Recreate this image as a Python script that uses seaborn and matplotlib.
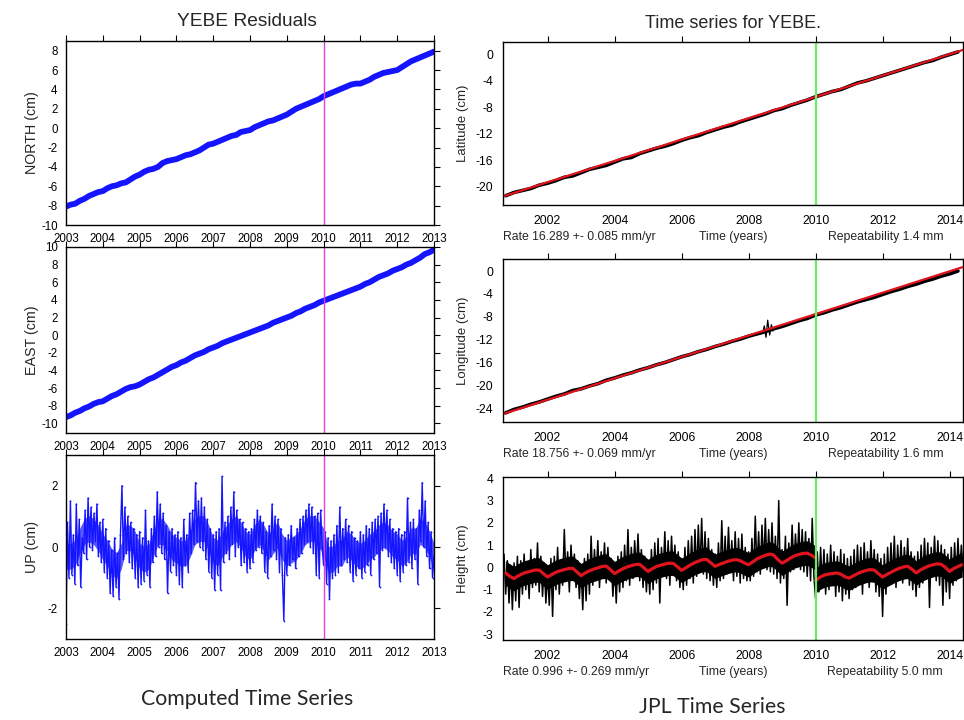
import numpy as np
import pandas as pd
import matplotlib
matplotlib.use("Agg")
import matplotlib.pyplot as plt
import seaborn as sns

# ---------------- data ----------------
# Left column: YEBE residuals 2003-2013, samples every 1/8 year
north = [-8.1, -7.9, -7.8, -7.5, -7.3, -7.0, -6.8, -6.6,
         -6.5, -6.2, -6.0, -5.9, -5.7, -5.6, -5.3, -5.0,
         -4.8, -4.5, -4.3, -4.2, -4.0, -3.6, -3.4, -3.3,
         -3.2, -3.0, -2.8, -2.7, -2.5, -2.3, -2.0, -1.7,
         -1.6, -1.4, -1.2, -1.0, -0.8, -0.7, -0.4, -0.3,
         -0.2, 0.1, 0.3, 0.5, 0.7, 0.8, 1.0, 1.2,
         1.4, 1.7, 2.0, 2.2, 2.4, 2.6, 2.8, 3.0,
         3.3, 3.5, 3.7, 3.9, 4.1, 4.3, 4.5, 4.6,
         4.6, 4.8, 5.0, 5.3, 5.5, 5.7, 5.8, 5.9,
         6.0, 6.3, 6.6, 6.9, 7.1, 7.3, 7.5, 7.7,
         7.9]
east = [-9.3, -9.1, -8.8, -8.6, -8.3, -8.1, -7.8, -7.6,
        -7.5, -7.2, -6.9, -6.7, -6.4, -6.1, -5.9, -5.8,
        -5.6, -5.3, -5.0, -4.8, -4.5, -4.2, -3.9, -3.6,
        -3.4, -3.1, -2.9, -2.6, -2.3, -2.1, -1.9, -1.6,
        -1.4, -1.2, -0.9, -0.7, -0.5, -0.3, -0.1, 0.1,
        0.3, 0.5, 0.7, 0.9, 1.1, 1.4, 1.6, 1.8,
        2.0, 2.2, 2.5, 2.7, 3.0, 3.2, 3.4, 3.7,
        3.9, 4.1, 4.3, 4.5, 4.7, 4.9, 5.1, 5.3,
        5.5, 5.8, 6.0, 6.3, 6.6, 6.8, 7.0, 7.3,
        7.5, 7.7, 8.0, 8.2, 8.5, 8.8, 9.2, 9.4,
        9.7]
# UP residuals, samples every 0.04 year (2003.00 ... 2013.00)
up = [-2.5, 0.8, -1.0, 1.5, -0.9, 0.4, -1.2, 1.4, -0.6, 0.9, -1.3, 0.3, -0.2, 1.2, -0.4, 1.6, 0.0, 1.3, -0.1, 1.1, 0.2, 1.4, -0.3, 0.8, -0.5,
      0.9, -0.8, 0.6, -1.0, 0.2, -1.5, -0.1, -1.6, 0.3, -1.3, -0.2, -1.7, 0.4, 2.0, -0.4, 1.3, -0.2, 1.0, -0.5, 0.8, -0.7, 0.6, -1.0, 0.4, -1.3,
      0.5, -1.2, 0.3, -1.1, 1.2, -0.9, 0.2, -1.3, 0.6, -0.5, 1.0, -0.3, 1.8, 0.0, 1.4, -0.2, 1.1, -0.4, 0.7, -1.5, 0.5, -0.8, 0.6, -0.6, 0.4,
      -0.9, 0.5, -1.2, 0.3, -1.3, 0.9, -0.6, 0.4, -0.8, 1.1, -0.2, 1.2, 0.1, 2.1, 0.2, 1.5, 0.0, 1.6, -0.1, 1.3, -0.4, 0.9, -0.8, 0.6, -1.0,
      0.4, -1.4, 0.5, -0.9, 0.6, -1.4, 2.3, -0.5, 0.8, -0.2, 1.0, -0.4, 1.3, 0.1, 1.8, -0.3, 1.2, 0.0, 0.9, -0.6, 0.8, -0.5, 0.6, -0.8, 0.5,
      -0.7, 0.6, -0.5, 0.9, -0.1, 1.2, 0.0, 1.0, -0.2, 0.8, -0.8, 0.5, -1.0, 0.7, -0.3, 1.4, -0.1, 1.0, -0.4, 0.9, -0.8, 0.6, -0.9, -2.4, 0.3,
      -0.9, 0.4, -0.6, 0.7, -0.4, 0.3, -0.7, 0.6, -0.3, 0.9, -0.2, 1.0, 0.1, 1.2, 0.2, 1.4, 0.0, 1.3, -0.2, 1.0, -0.9, 1.1, -1.0, 1.2, 0.0,
      -0.6, 0.5, -1.2, 0.3, -1.7, 0.2, -1.0, 0.4, -0.9, 0.7, -0.8, 1.3, -0.6, 0.6, -0.4, 0.9, -0.5, 0.7, -0.8, 0.5, -1.1, 0.3, -0.9, 0.2, -0.7,
      0.5, -1.0, 0.4, -0.8, 0.7, -0.6, 0.6, -0.9, 0.8, -0.4, 0.9, -0.2, 1.0, -1.3, 1.1, -0.1, 1.4, 0.0, 1.2, -0.3, 0.9, -0.5, 0.6, -0.7, 0.5,
      -0.9, 0.6, -1.1, 0.4, -0.8, 0.5, -0.6, 1.6, -0.5, 0.8, -0.7, 0.9, -0.4, 0.6, -1.2, 1.2, 0.2, 2.1, 0.0, 1.5, -0.3, 0.8, -0.7, 0.5, -1.0,
      -0.3]
# dense core of the UP scatter (running centre), every 1/8 year
up_core = [-0.3, -0.3, -0.2, 0.2, 0.5, 0.6, 0.5, 0.3,
           0.0, -0.2, -0.5, -0.6, -0.3, 0.3, 0.3, 0.1,
           -0.3, -0.4, -0.3, 0.1, 0.5, 0.5, 0.3, 0.0,
           -0.1, -0.2, -0.2, 0.1, 0.5, 0.6, 0.6, 0.3,
           -0.1, -0.2, 0.1, 0.3, 0.5, 0.6, 0.4, 0.1,
           0.0, 0.3, 0.5, 0.3, 0.0, 0.2, 0.4, 0.0,
           -0.2, -0.1, 0.0, 0.2, 0.5, 0.6, 0.6, 0.4,
           0.2, -0.4, -0.4, -0.2, -0.2, 0.1, 0.0, -0.2,
           -0.3, -0.2, 0.0, 0.1, 0.3, 0.4, 0.3, 0.1,
           0.0, -0.2, -0.1, 0.2, 0.2, 0.5, 0.4, 0.1,
           -0.3]

# Right column: JPL time series, quarterly samples 2000.75 ... 2014.25
lat_obs = [-21.4,
           -20.9, -20.6, -20.3, -19.8, -19.5, -19.1, -18.6, -18.4,
           -17.9, -17.4, -17.1, -16.8, -16.3, -15.8, -15.6, -15.0,
           -14.6, -14.2, -13.9, -13.5, -13.0, -12.6, -12.3, -11.8,
           -11.4, -11.0, -10.7, -10.2, -9.8, -9.4, -9.0, -8.5,
           -8.2, -7.7, -7.3, -6.9, -6.4, -6.0, -5.6, -5.3,
           -4.8, -4.3, -4.0, -3.6, -3.2, -2.8, -2.4, -2.0,
           -1.6, -1.2, -0.9, -0.4, 0.0, 0.4]
lat_fit_t = [2000.67, 2014.4]
lat_fit = [-21.5, 0.7]

lon_obs = [-24.8,
           -24.2, -23.8, -23.3, -22.9, -22.4, -21.9, -21.5, -20.9,
           -20.6, -20.1, -19.7, -19.1, -18.7, -18.2, -17.8, -17.3,
           -16.9, -16.4, -16.0, -15.5, -15.0, -14.6, -14.1, -13.7,
           -13.2, -12.8, -12.3, -11.9, -11.4, -11.0, -10.6, -10.1,
           -9.7, -9.2, -8.7, -8.3, -7.7, -7.3, -6.8, -6.4,
           -5.9, -5.4, -5.0, -4.6, -4.1, -3.6, -3.2, -2.7,
           -2.3, -1.8, -1.4, -0.9, -0.5, 0.0]
lon_spike_t = [2008.42, 2008.47, 2008.52, 2008.57, 2008.63, 2008.68, 2008.73]
lon_spike = [-10.8, -9.6, -11.6, -8.6, -11.2, -9.4, -10.5]
lon_fit_t = [2000.67, 2014.4]
lon_fit = [-25.0, 0.7]

# Height, samples every 0.05 year (2000.70 ... 2014.40)
hgt_obs = [0.6, -1.2, 0.3, -1.6, 0.1, -1.9,
           0.2, -1.5, 0.5, -1.8, 0.3, -1.2, 0.6, -1.0, 0.2, -1.4, 0.8, -0.9, 0.4, -0.8, 1.1, -1.1, 0.5, -1.3, 0.2, -1.6,
           -0.2, -1.7, 0.4, -2.2, 0.5, -1.0, 0.9, -1.2, 0.3, -0.8, 1.7, -0.6, 0.7, -1.1, 1.0, -0.5, 0.6, -0.9, 0.3, -1.4,
           0.1, -1.9, 0.4, -1.5, 0.6, -1.2, 1.4, -0.8, 0.8, -0.6, 1.2, -0.9, 0.7, -0.4, 1.1, -0.7, 0.9, -0.5, 0.4, -1.3,
           0.2, -1.6, 0.5, -1.1, 0.7, -0.9, 1.0, -0.6, 1.7, -0.8, 0.9, -0.5, 1.2, -0.3, 1.5, -0.6, 0.8, -0.9, 0.5, -1.1,
           0.3, -1.2, 0.8, -1.0, 1.1, -0.7, 1.3, -1.6, 0.9, -0.4, 1.6, -0.5, 1.2, -0.8, 1.4, -0.3, 1.0, -0.6, 0.7, -0.9,
           0.4, -1.0, 0.9, -0.8, 1.2, -0.5, 1.4, -0.7, 1.7, -0.4, 1.9, -0.2, 2.2, -0.3, 1.6, -0.5, 1.3, -0.6, 0.8, -0.8,
           0.6, -0.9, 1.1, -0.6, 2.1, -0.5, 1.4, -0.3, 1.8, -0.2, 1.2, -0.6, 1.6, -0.4, 1.3, -0.7, 1.5, -0.5, 0.9, -0.6,
           0.7, -0.6, 1.3, -0.4, 2.3, -0.2, 1.6, -0.3, 1.9, 0.0, 2.2, -0.1, 1.7, -0.2, 2.0, -0.3, 1.4, -0.5, 3.0, -0.7,
           0.8, -0.5, 1.4, -1.7, 1.1, -0.2, 1.9, -0.1, 1.5, 0.0, 2.0, -0.1, 1.7, -0.2, 1.6, -0.4, 1.3, -0.6, 2.2, -0.4,
           -1.4, 0.7, -1.1, 0.9, -0.9, 0.8, -1.2, 0.6, -1.0, 1.0, -0.8, 0.7, -1.3, 0.5, -1.1, 0.8, -1.5, 0.6, -1.2, 0.4,
           -1.4, 0.5, -1.0, 0.8, -0.9, 1.0, -0.7, 0.9, -1.2, 1.1, -0.6, 0.7, -0.9, 1.2, -0.5, 0.8, -1.1, 0.6, -1.3, 0.4,
           -2.2, 0.6, -1.2, 0.9, -0.8, 1.1, -0.6, 1.4, -0.9, 1.0, -0.5, 1.2, -0.7, 0.9, -0.4, 1.3, -0.8, 0.7, -1.0, 0.5,
           -1.3, 0.7, -0.9, 1.0, -0.7, 1.3, -0.5, 1.1, -1.8, 0.9, -0.4, 1.4, -0.6, 1.2, -0.8, 1.0, -1.7, 0.8, -1.1, 0.6,
           -1.4, 0.9, -0.8, 1.1, -0.6, 1.3, -0.4, 1.0, -0.2]
# Height model (red), every 1/8 year; before and after the 2010 offset
hgt_fit_pre = [-0.25, -0.4,
               -0.5, -0.38, -0.28, -0.22, -0.17, -0.12, -0.12, -0.28,
               -0.43, -0.32, -0.22, -0.15, -0.1, -0.05, -0.04, -0.2,
               -0.37, -0.25, -0.15, -0.08, -0.02, 0.04, 0.06, -0.1,
               -0.28, -0.16, -0.06, 0.02, 0.08, 0.13, 0.14, -0.02,
               -0.18, -0.06, 0.04, 0.1, 0.15, 0.19, 0.18, 0.03,
               -0.13, -0.02, 0.1, 0.2, 0.28, 0.35, 0.36, 0.2,
               0.05, 0.13, 0.2, 0.27, 0.32, 0.35, 0.3, 0.2,
               0.12, 0.25, 0.38, 0.47, 0.54, 0.6, 0.55, 0.35,
               0.19, 0.3, 0.42, 0.52, 0.58, 0.63, 0.64, 0.55,
               0.42]
hgt_fit_post = [-0.6, -0.45, -0.35, -0.3, -0.28, -0.25, -0.3, -0.42,
                -0.48, -0.38, -0.28, -0.2, -0.14, -0.1, -0.12, -0.28,
                -0.43, -0.32, -0.22, -0.12, -0.04, 0.02, 0.05, -0.08,
                -0.25, -0.12, -0.02, 0.06, 0.12, 0.16, 0.14, 0.0,
                -0.18, -0.05, 0.04, 0.12]

left_years = list(range(2003, 2014))
right_years = [2002, 2004, 2006, 2008, 2010, 2012, 2014]
event_year = 2010.0

rate_text = ["Rate 16.289 +- 0.085 mm/yr", "Rate 18.756 +- 0.069 mm/yr", "Rate 0.996 +- 0.269 mm/yr"]
rep_text = ["Repeatability 1.4 mm", "Repeatability 1.6 mm", "Repeatability 5.0 mm"]

# time axes
t_left8 = np.linspace(2003.0, 2013.0, len(north))
t_up = np.linspace(2003.0, 2013.0, len(up))
t_core = np.linspace(2003.0, 2013.0, len(up_core))
t_q = np.linspace(2000.75, 2014.25, len(lat_obs))
t_h = np.linspace(2000.70, 2014.40, len(hgt_obs))
t_fpre = np.linspace(2000.75, 2010.0, len(hgt_fit_pre))
t_fpost = np.linspace(2010.0, 2014.375, len(hgt_fit_post))

# ---------------- style ----------------
sns.set_theme(style="white")
plt.rcParams['font.family'] = ['Liberation Sans', 'DejaVu Sans']
plt.rcParams['axes.edgecolor'] = 'black'
plt.rcParams['axes.linewidth'] = 1.0

fig = plt.figure(figsize=(9.64, 7.2), dpi=100)
W, H = 964.0, 720.0

def add_ax(x0, y0, x1, y1):
    return fig.add_axes([x0 / W, 1 - y1 / H, (x1 - x0) / W, (y1 - y0) / H])

BLUE = '#1414ff'
MAG = '#e23ee2'
GREEN = '#66ee66'
RED = '#e0141e'
UP_HALF = 0.42      # half-thickness of the dense part of the UP cloud (cm)
HGT_HALF = 0.55     # half-thickness of the dense part of the height cloud (cm)

# ---- left column ----
axL = [add_ax(66, 41, 434, 225), add_ax(66, 247, 434, 433), add_ax(66, 455, 434, 639)]
sns.lineplot(x=t_left8, y=north, ax=axL[0], color=BLUE, lw=4.2, sort=False, estimator=None)
sns.lineplot(x=t_left8, y=east, ax=axL[1], color=BLUE, lw=4.2, sort=False, estimator=None)
core = np.array(up_core)
axL[2].fill_between(t_core, core - UP_HALF, core + UP_HALF, color=BLUE, alpha=0.7, lw=0)
sns.lineplot(x=t_up, y=up, ax=axL[2], color=BLUE, lw=1.0, sort=False, estimator=None,
             marker='.', markersize=2.5, markeredgewidth=0)
ylims_L = [(-10, 9), (-11.1, 10), (-3, 3)]
yticks_L = [np.arange(-10, 9, 2), np.arange(-10, 11, 2), [-2, 0, 2]]
ylabels_L = ["NORTH (cm)", "EAST (cm)", "UP (cm)"]
for ax, yl, yt, lab in zip(axL, ylims_L, yticks_L, ylabels_L):
    ax.axvline(event_year, color=MAG, lw=1.0)
    ax.set_xlim(2003, 2013)
    ax.set_ylim(*yl)
    ax.set_xticks(left_years)
    ax.set_xticklabels([str(y) for y in left_years])
    ax.set_yticks(yt)
    ax.set_yticklabels([str(int(v)) for v in yt])
    ax.tick_params(direction='out', top=True, right=True, length=4, width=0.8,
                   labelsize=8.3, pad=2, colors='black')
    ax.set_xlabel("")
    ax.set_ylabel(lab, fontsize=10.3, labelpad=4)
    ax.yaxis.set_label_coords(-0.073, 0.5)
    for s in ax.spines.values():
        s.set_visible(True)

# ---- right column ----
axR = [add_ax(503, 42, 963, 205), add_ax(503, 259, 963, 422), add_ax(503, 477, 963, 640)]
sns.lineplot(x=t_q, y=lat_obs, ax=axR[0], color='black', lw=2.6, sort=False, estimator=None)
sns.lineplot(x=lat_fit_t, y=lat_fit, ax=axR[0], color=RED, lw=1.6, sort=False, estimator=None)
sns.lineplot(x=t_q, y=lon_obs, ax=axR[1], color='black', lw=2.6, sort=False, estimator=None)
sns.lineplot(x=lon_spike_t, y=lon_spike, ax=axR[1], color='black', lw=0.9, sort=False, estimator=None)
sns.lineplot(x=lon_fit_t, y=lon_fit, ax=axR[1], color=RED, lw=1.6, sort=False, estimator=None)
# dense part of the height cloud around the model curve
fpre = np.array(hgt_fit_pre)
fpost = np.array(hgt_fit_post)
axR[2].fill_between(t_fpre, fpre - HGT_HALF, fpre + HGT_HALF, color='black', lw=0)
axR[2].fill_between(t_fpost, fpost - HGT_HALF, fpost + HGT_HALF, color='black', lw=0)
sns.lineplot(x=t_h, y=hgt_obs, ax=axR[2], color='black', lw=1.1, sort=False, estimator=None)
sns.lineplot(x=t_fpre, y=hgt_fit_pre, ax=axR[2], color=RED, lw=2.3, sort=False, estimator=None)
sns.lineplot(x=t_fpost, y=hgt_fit_post, ax=axR[2], color=RED, lw=2.3, sort=False, estimator=None)

ylims_R = [(-22.8, 1.9), (-26.4, 2.1), (-3.26, 4.06)]
yticks_R = [np.arange(-20, 1, 4), np.arange(-24, 1, 4), np.arange(-3, 5, 1)]
ylabels_R = ["Latitude (cm)", "Longitude (cm)", "Height (cm)"]
for i, ax in enumerate(axR):
    ax.axvline(event_year, color=GREEN, lw=1.6)
    ax.set_xlim(2000.67, 2014.4)
    ax.set_ylim(*ylims_R[i])
    ax.set_xticks(right_years)
    ax.set_xticklabels([str(y) for y in right_years])
    ax.set_yticks(yticks_R[i])
    ax.set_yticklabels([str(int(v)) for v in yticks_R[i]])
    ax.tick_params(direction='out', top=True, right=True, length=4, width=0.8,
                   labelsize=8.8, pad=3, colors='black')
    ax.set_xlabel("")
    ax.set_ylabel(ylabels_R[i], fontsize=9.5)
    ax.yaxis.set_label_coords(-0.075, 0.5)
    for s in ax.spines.values():
        s.set_visible(True)
    ax.text(0.0, -0.195, rate_text[i], transform=ax.transAxes, ha='left', va='center', fontsize=8.8)
    ax.text(0.5, -0.195, "Time (years)", transform=ax.transAxes, ha='center', va='center', fontsize=8.8)
    ax.text(0.957, -0.195, rep_text[i], transform=ax.transAxes, ha='right', va='center', fontsize=8.8)

fig.text(247 / W, 1 - 22 / H, "YEBE Residuals", ha='center', va='center', fontsize=13.8)
fig.text(733 / W, 1 - 23 / H, "Time series for YEBE.", ha='center', va='center', fontsize=13)
fig.text(247 / W, 1 - 699 / H, "Computed Time Series", ha='center', va='center', fontsize=15.3,
         family=['Lato', 'DejaVu Sans'])
fig.text(712 / W, 1 - 707 / H, "JPL Time Series", ha='center', va='center', fontsize=15.3,
         family=['Lato', 'DejaVu Sans'])

fig.savefig("out.png", dpi=100)
